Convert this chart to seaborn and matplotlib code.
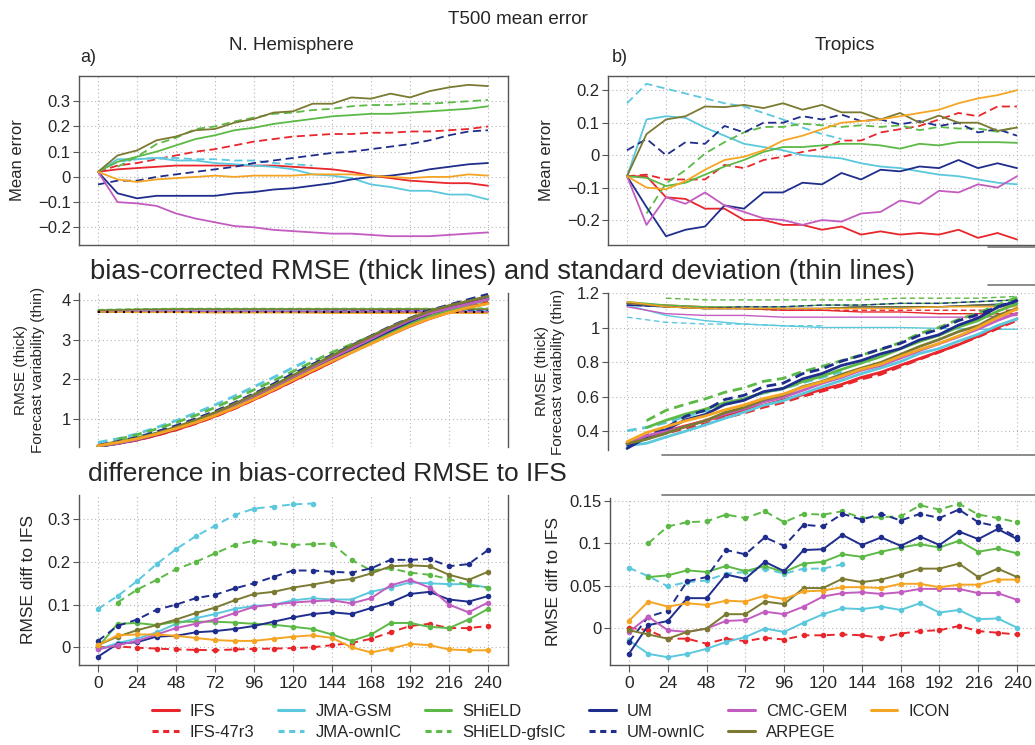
import numpy as np
import pandas as pd
import seaborn as sns
import matplotlib.pyplot as plt
from matplotlib.lines import Line2D
from matplotlib import font_manager

nan = np.nan

# lead times (h)
LEAD = [0, 12, 24, 36, 48, 60, 72, 84, 96, 108, 120, 132, 144, 156, 168, 180, 192, 204, 216, 228, 240]
LEAD24 = [0, 24, 48, 72, 96, 120, 144, 168, 192, 216, 240]
XTICKS = [0, 24, 48, 72, 96, 120, 144, 168, 192, 216, 240]

MODELS = ["IFS", "IFS-47r3", "JMA-GSM", "JMA-ownIC", "SHiELD", "SHiELD-gfsIC",
          "UM", "UM-ownIC", "CMC-GEM", "ARPEGE", "ICON"]
COLORS = {"IFS": "#e8262b", "IFS-47r3": "#e8262b",
          "JMA-GSM": "#5bc8dd", "JMA-ownIC": "#5bc8dd",
          "SHiELD": "#5cb946", "SHiELD-gfsIC": "#5cb946",
          "UM": "#1f2d8c", "UM-ownIC": "#1f2d8c",
          "CMC-GEM": "#c25cc0", "ARPEGE": "#7b7a32", "ICON": "#f5a524"}
DASHED = ["IFS-47r3", "JMA-ownIC", "SHiELD-gfsIC", "UM-ownIC"]

# mean error, N. Hemisphere
ME_NH = {
    "IFS": [0.02, 0.03, 0.035, 0.04, 0.045, 0.045, 0.045, 0.045, 0.045, 0.045, 0.04, 0.035, 0.03, 0.02, 0.005, -0.005, -0.015, -0.02, -0.025, -0.025, -0.035],
    "IFS-47r3": [0.02, 0.045, 0.055, 0.07, 0.085, 0.1, 0.11, 0.125, 0.14, 0.15, 0.16, 0.165, 0.17, 0.17, 0.175, 0.175, 0.18, 0.18, 0.185, 0.19, 0.2],
    "JMA-GSM": [0.02, 0.07, 0.07, 0.075, 0.065, 0.065, 0.055, 0.05, 0.045, 0.04, 0.03, 0.01, 0.005, -0.005, -0.03, -0.04, -0.055, -0.055, -0.07, -0.07, -0.09],
    "JMA-ownIC": [0.02, 0.06, 0.07, 0.075, 0.075, 0.07, 0.07, 0.065, 0.065, 0.055, 0.05, 0.045, nan, nan, nan, nan, nan, nan, nan, nan, nan],
    "SHiELD": [0.02, 0.06, 0.08, 0.1, 0.125, 0.15, 0.165, 0.185, 0.195, 0.21, 0.22, 0.23, 0.24, 0.245, 0.25, 0.25, 0.255, 0.26, 0.265, 0.27, 0.28],
    "SHiELD-gfsIC": [nan, 0.04, 0.08, 0.13, 0.155, 0.19, 0.2, 0.22, 0.235, 0.25, 0.255, 0.265, 0.27, 0.28, 0.285, 0.285, 0.29, 0.29, 0.295, 0.3, 0.305],
    "UM": [0.02, -0.065, -0.085, -0.075, -0.075, -0.075, -0.075, -0.065, -0.06, -0.05, -0.045, -0.035, -0.025, -0.01, 0.0, 0.005, 0.015, 0.03, 0.04, 0.05, 0.055],
    "UM-ownIC": [-0.03, -0.015, -0.015, 0.0, 0.01, 0.02, 0.03, 0.04, 0.055, 0.065, 0.075, 0.085, 0.095, 0.1, 0.11, 0.12, 0.13, 0.145, 0.165, 0.18, 0.185],
    "CMC-GEM": [0.02, -0.1, -0.105, -0.115, -0.145, -0.165, -0.18, -0.195, -0.2, -0.21, -0.215, -0.22, -0.225, -0.225, -0.23, -0.235, -0.235, -0.235, -0.23, -0.225, -0.22],
    "ARPEGE": [0.02, 0.085, 0.105, 0.145, 0.16, 0.185, 0.19, 0.215, 0.23, 0.255, 0.26, 0.29, 0.29, 0.315, 0.31, 0.33, 0.315, 0.34, 0.355, 0.365, 0.36],
    "ICON": [0.02, -0.01, -0.02, -0.01, -0.005, 0.0, 0.005, 0.0, 0.005, 0.005, 0.005, 0.01, 0.01, 0.01, 0.005, 0.0, -0.005, 0.0, 0.0, 0.01, 0.005],
}

# mean error, Tropics
ME_TR = {
    "IFS": [-0.065, -0.065, -0.13, -0.135, -0.165, -0.165, -0.2, -0.2, -0.215, -0.215, -0.23, -0.22, -0.245, -0.235, -0.245, -0.24, -0.245, -0.23, -0.255, -0.24, -0.26],
    "IFS-47r3": [-0.065, -0.06, -0.075, -0.075, -0.075, -0.03, -0.04, -0.015, -0.005, 0.01, 0.02, 0.045, 0.045, 0.07, 0.08, 0.09, 0.11, 0.13, 0.12, 0.15, 0.15],
    "JMA-GSM": [-0.065, 0.11, 0.12, 0.115, 0.085, 0.06, 0.035, 0.025, 0.015, 0.0, -0.005, -0.01, -0.025, -0.035, -0.04, -0.05, -0.06, -0.065, -0.075, -0.085, -0.09],
    "JMA-ownIC": [0.16, 0.22, 0.205, 0.19, 0.175, 0.16, 0.15, 0.13, 0.11, 0.085, 0.065, 0.05, nan, nan, nan, nan, nan, nan, nan, nan, nan],
    "SHiELD": [-0.065, -0.07, -0.095, -0.085, -0.06, -0.035, -0.015, 0.01, 0.025, 0.025, 0.03, 0.035, 0.035, 0.03, 0.02, 0.035, 0.03, 0.04, 0.04, 0.04, 0.038],
    "SHiELD-gfsIC": [nan, -0.18, -0.087, -0.046, 0.005, 0.04, 0.07, 0.087, 0.087, 0.097, 0.092, 0.087, 0.092, 0.087, 0.092, 0.077, 0.087, 0.082, 0.082, 0.072, 0.087],
    "UM": [-0.065, -0.16, -0.25, -0.23, -0.22, -0.155, -0.165, -0.115, -0.115, -0.085, -0.09, -0.055, -0.075, -0.045, -0.05, -0.035, -0.04, -0.015, -0.04, -0.025, -0.04],
    "UM-ownIC": [0.015, 0.05, 0.0, 0.04, 0.035, 0.09, 0.07, 0.1, 0.1, 0.12, 0.11, 0.125, 0.105, 0.11, 0.095, 0.105, 0.09, 0.1, 0.07, 0.08, 0.06],
    "CMC-GEM": [-0.065, -0.215, -0.13, -0.15, -0.115, -0.155, -0.175, -0.195, -0.2, -0.215, -0.2, -0.205, -0.18, -0.175, -0.14, -0.15, -0.11, -0.115, -0.09, -0.1, -0.065],
    "ARPEGE": [-0.065, 0.065, 0.11, 0.12, 0.15, 0.148, 0.155, 0.145, 0.16, 0.14, 0.155, 0.132, 0.132, 0.11, 0.13, 0.1, 0.122, 0.1, 0.1, 0.075, 0.085],
    "ICON": [-0.065, -0.1, -0.105, -0.08, -0.045, -0.015, -0.005, 0.015, 0.045, 0.06, 0.08, 0.1, 0.105, 0.11, 0.12, 0.13, 0.14, 0.16, 0.175, 0.185, 0.2],
}

# bias-corrected RMSE of IFS
RMSE_IFS_NH = [0.32, 0.38, 0.47, 0.59, 0.73, 0.89, 1.07, 1.27, 1.49, 1.72, 1.96, 2.2, 2.44, 2.68, 2.91, 3.13, 3.34, 3.53, 3.69, 3.82, 3.92]
RMSE_IFS_TR = [0.33, 0.36, 0.4, 0.43, 0.46, 0.49, 0.52, 0.55, 0.58, 0.61, 0.64, 0.67, 0.71, 0.74, 0.78, 0.82, 0.86, 0.9, 0.95, 1.0, 1.05]

# difference in bias-corrected RMSE to IFS, N. Hemisphere
DIFF_NH = {
    "IFS-47r3": [0.0, 0.002, -0.001, -0.003, -0.005, -0.006, -0.007, -0.005, -0.004, -0.003, -0.002, 0.0, 0.005, 0.01, 0.02, 0.035, 0.05, 0.055, 0.045, 0.045, 0.05],
    "JMA-GSM": [-0.005, 0.01, 0.02, 0.035, 0.055, 0.068, 0.078, 0.09, 0.097, 0.1, 0.11, 0.115, 0.112, 0.112, 0.13, 0.14, 0.152, 0.15, 0.148, 0.148, 0.14],
    "JMA-ownIC": [0.09, 0.12, 0.155, 0.195, 0.23, 0.26, 0.285, 0.31, 0.325, 0.33, 0.335, 0.337, nan, nan, nan, nan, nan, nan, nan, nan, nan],
    "SHiELD": [0.0, 0.055, 0.057, 0.052, 0.06, 0.06, 0.06, 0.058, 0.055, 0.053, 0.048, 0.043, 0.03, 0.015, 0.03, 0.057, 0.057, 0.048, 0.045, 0.065, 0.09],
    "SHiELD-gfsIC": [nan, 0.105, 0.135, 0.158, 0.183, 0.2, 0.22, 0.24, 0.25, 0.245, 0.24, 0.242, 0.243, 0.205, 0.18, 0.185, 0.175, 0.17, 0.16, 0.145, 0.14],
    "UM": [-0.022, 0.008, 0.012, 0.025, 0.027, 0.035, 0.038, 0.043, 0.05, 0.06, 0.07, 0.078, 0.082, 0.078, 0.092, 0.105, 0.125, 0.13, 0.112, 0.107, 0.12],
    "UM-ownIC": [0.015, 0.05, 0.065, 0.088, 0.1, 0.115, 0.123, 0.138, 0.15, 0.165, 0.18, 0.18, 0.177, 0.175, 0.185, 0.205, 0.205, 0.207, 0.19, 0.195, 0.228],
    "CMC-GEM": [-0.005, 0.005, 0.015, 0.03, 0.045, 0.055, 0.065, 0.08, 0.095, 0.1, 0.105, 0.108, 0.11, 0.103, 0.115, 0.145, 0.158, 0.14, 0.1, 0.082, 0.105],
    "ARPEGE": [0.005, 0.025, 0.04, 0.052, 0.065, 0.08, 0.093, 0.11, 0.125, 0.13, 0.14, 0.147, 0.155, 0.16, 0.173, 0.19, 0.192, 0.19, 0.17, 0.158, 0.177],
    "ICON": [0.005, 0.028, 0.03, 0.03, 0.027, 0.022, 0.017, 0.015, 0.015, 0.02, 0.025, 0.028, 0.022, 0.0, -0.012, -0.003, 0.008, 0.005, -0.005, -0.007, -0.007],
}

# difference in bias-corrected RMSE to IFS, Tropics
DIFF_TR = {
    "IFS-47r3": [0.0, -0.003, -0.013, -0.013, -0.019, -0.013, -0.016, -0.012, -0.014, -0.009, -0.009, -0.008, -0.009, -0.012, -0.007, -0.004, -0.003, 0.002, -0.004, -0.006, -0.008],
    "JMA-GSM": [-0.015, -0.031, -0.035, -0.031, -0.025, -0.017, -0.011, -0.001, -0.005, 0.006, 0.016, 0.023, 0.022, 0.025, 0.021, 0.029, 0.018, 0.021, 0.01, 0.011, 0.0],
    "JMA-ownIC": [0.071, 0.061, 0.049, 0.054, 0.056, 0.064, 0.066, 0.07, 0.064, 0.07, 0.07, 0.075, nan, nan, nan, nan, nan, nan, nan, nan, nan],
    "SHiELD": [nan, 0.06, 0.062, 0.068, 0.066, 0.073, 0.067, 0.073, 0.066, 0.076, 0.078, 0.087, 0.084, 0.09, 0.095, 0.099, 0.095, 0.103, 0.09, 0.094, 0.088],
    "SHiELD-gfsIC": [nan, 0.1, 0.12, 0.125, 0.126, 0.134, 0.13, 0.138, 0.125, 0.135, 0.134, 0.138, 0.13, 0.131, 0.132, 0.145, 0.14, 0.147, 0.134, 0.13, 0.125],
    "UM": [-0.031, 0.003, 0.008, 0.035, 0.035, 0.063, 0.058, 0.078, 0.067, 0.092, 0.093, 0.11, 0.098, 0.107, 0.097, 0.108, 0.098, 0.114, 0.105, 0.117, 0.105],
    "UM-ownIC": [-0.017, 0.013, 0.02, 0.055, 0.06, 0.092, 0.087, 0.107, 0.097, 0.122, 0.12, 0.135, 0.128, 0.135, 0.127, 0.135, 0.13, 0.14, 0.125, 0.12, 0.107],
    "CMC-GEM": [-0.005, 0.013, -0.003, -0.005, -0.001, 0.008, 0.009, 0.019, 0.016, 0.025, 0.037, 0.041, 0.042, 0.04, 0.042, 0.046, 0.046, 0.046, 0.041, 0.041, 0.033],
    "ARPEGE": [-0.003, -0.008, -0.013, -0.005, -0.001, 0.016, 0.016, 0.031, 0.028, 0.047, 0.047, 0.058, 0.054, 0.057, 0.063, 0.07, 0.07, 0.076, 0.06, 0.07, 0.06],
    "ICON": [0.008, 0.031, 0.025, 0.029, 0.027, 0.032, 0.031, 0.038, 0.034, 0.043, 0.044, 0.048, 0.048, 0.047, 0.052, 0.052, 0.048, 0.051, 0.051, 0.057, 0.057],
}

# forecast variability (standard deviation), every 24 h
STD_NH = {
    "IFS": [3.72, 3.72, 3.72, 3.72, 3.72, 3.71, 3.71, 3.71, 3.7, 3.7, 3.7],
    "IFS-47r3": [3.72, 3.72, 3.72, 3.72, 3.72, 3.72, 3.72, 3.72, 3.72, 3.72, 3.72],
    "JMA-GSM": [3.7, 3.71, 3.72, 3.72, 3.72, 3.73, 3.73, 3.73, 3.74, 3.74, 3.74],
    "JMA-ownIC": [3.72, 3.73, 3.74, 3.74, 3.74, 3.74, nan, nan, nan, nan, nan],
    "SHiELD": [3.75, 3.77, 3.78, 3.78, 3.78, 3.78, 3.78, 3.78, 3.78, 3.78, 3.78],
    "SHiELD-gfsIC": [3.76, 3.78, 3.79, 3.79, 3.79, 3.79, 3.79, 3.79, 3.79, 3.79, 3.8],
    "UM": [3.7, 3.7, 3.7, 3.7, 3.7, 3.7, 3.7, 3.7, 3.71, 3.71, 3.71],
    "UM-ownIC": [3.7, 3.7, 3.7, 3.7, 3.71, 3.71, 3.72, 3.73, 3.74, 3.75, 3.75],
    "CMC-GEM": [3.71, 3.72, 3.72, 3.72, 3.72, 3.72, 3.72, 3.72, 3.72, 3.71, 3.71],
    "ARPEGE": [3.74, 3.76, 3.77, 3.77, 3.77, 3.77, 3.77, 3.77, 3.77, 3.77, 3.77],
    "ICON": [3.7, 3.69, 3.69, 3.68, 3.68, 3.68, 3.67, 3.67, 3.67, 3.67, 3.67],
}
ANA_STD_NH = [3.71, 3.71, 3.71, 3.71, 3.71, 3.71, 3.71, 3.71, 3.71, 3.71, 3.71]
STD_TR = {
    "IFS": [1.14, 1.13, 1.12, 1.11, 1.1, 1.1, 1.09, 1.09, 1.08, 1.08, 1.08],
    "IFS-47r3": [1.14, 1.12, 1.11, 1.11, 1.1, 1.1, 1.1, 1.1, 1.1, 1.1, 1.1],
    "JMA-GSM": [1.13, 1.07, 1.04, 1.02, 1.01, 1.0, 1.0, 1.0, 0.995, 0.99, 0.99],
    "JMA-ownIC": [1.06, 1.03, 1.02, 1.02, 1.01, 1.01, nan, nan, nan, nan, nan],
    "SHiELD": [1.15, 1.13, 1.12, 1.12, 1.12, 1.13, 1.13, 1.14, 1.14, 1.15, 1.16],
    "SHiELD-gfsIC": [nan, 1.17, 1.16, 1.16, 1.16, 1.16, 1.16, 1.17, 1.17, 1.17, 1.18],
    "UM": [1.13, 1.12, 1.11, 1.11, 1.11, 1.11, 1.12, 1.12, 1.12, 1.13, 1.14],
    "UM-ownIC": [1.13, 1.12, 1.11, 1.12, 1.12, 1.13, 1.13, 1.14, 1.14, 1.15, 1.16],
    "CMC-GEM": [1.12, 1.08, 1.07, 1.07, 1.06, 1.06, 1.06, 1.06, 1.06, 1.06, 1.07],
    "ARPEGE": [1.14, 1.12, 1.11, 1.11, 1.11, 1.11, 1.12, 1.12, 1.12, 1.13, 1.13],
    "ICON": [1.15, 1.12, 1.11, 1.11, 1.11, 1.11, 1.11, 1.11, 1.12, 1.12, 1.12],
}

YT_ME_NH = [-0.2, -0.1, 0, 0.1, 0.2, 0.3]
YL_ME_NH = ["\u22120.2", "\u22120.1", "0", "0.1", "0.2", "0.3"]
YT_ME_TR = [-0.2, -0.1, 0, 0.1, 0.2]
YL_ME_TR = ["\u22120.2", "\u22120.1", "0", "0.1", "0.2"]
YT_RM_NH = [1, 2, 3, 4]
YL_RM_NH = ["1", "2", "3", "4"]
YT_RM_TR = [0.4, 0.6, 0.8, 1.0, 1.2]
YL_RM_TR = ["0.4", "0.6", "0.8", "1", "1.2"]
YT_DF_NH = [0, 0.1, 0.2, 0.3]
YL_DF_NH = ["0", "0.1", "0.2", "0.3"]
YT_DF_TR = [0, 0.05, 0.1, 0.15]
YL_DF_TR = ["0", "0.05", "0.1", "0.15"]


def to_long(d, x):
    rows = []
    for m, vals in d.items():
        for xi, v in zip(x, vals):
            rows.append((m, xi, v))
    return pd.DataFrame(rows, columns=["model", "lead", "value"]).dropna()


def rmse_from_diff(base, diff):
    out = {"IFS": base}
    for m, vals in diff.items():
        out[m] = [b + v for b, v in zip(base, vals)]
    return out


sns.set_style("white")
names = {f.name for f in font_manager.fontManager.ttflist}
NARROW = "Liberation Sans Narrow" if "Liberation Sans Narrow" in names else "Liberation Sans"
plt.rcParams["font.family"] = [NARROW, "DejaVu Sans"]
plt.rcParams["axes.unicode_minus"] = True

W, H = 1035, 745
fig = plt.figure(figsize=(W / 100, H / 100), dpi=100)


def px_axes(left, top, right, bottom):
    return fig.add_axes([left / W, 1 - bottom / H, (right - left) / W, (bottom - top) / H])


def px_line(x0, x1, y0, y1, lw=1.2):
    fig.add_artist(Line2D([x0 / W, x1 / W], [1 - y0 / H, 1 - y1 / H], color="#777777",
                          linewidth=lw, transform=fig.transFigure))


def draw(ax, d, x, lw, dash, markers=False):
    df = to_long(d, x)
    levels = [m for m in MODELS if m in d]
    dashes = {m: (dash if m in DASHED else "") for m in levels}
    kw = {}
    if markers:
        kw = dict(markers={m: "o" for m in levels}, markersize=4, markeredgewidth=0)
    sns.lineplot(data=df, x="lead", y="value", hue="model", style="model",
                 hue_order=levels, style_order=levels, palette=COLORS,
                 dashes=dashes, linewidth=lw, legend=False, ax=ax,
                 estimator=None, errorbar=None, **kw)


def style_ax(ax, ylim, yt, yl, xlabels=False, hide=()):
    ax.set_xlim(-11.7, 252.3)
    ax.set_ylim(*ylim)
    ax.set_xticks(XTICKS)
    ax.set_yticks(yt)
    ax.set_yticklabels(yl, fontsize=12)
    ax.set_xlabel("")
    ax.set_ylabel("")
    ax.grid(True, color="#b5b5b5", linestyle=(0, (1, 2.5)), linewidth=0.8)
    for s in ax.spines.values():
        s.set_color("#555555")
        s.set_linewidth(1.0)
    for s in hide:
        ax.spines[s].set_visible(False)
    ax.tick_params(axis="y", which="both", left=True, length=4, width=0.8, color="#555555", pad=2)
    if xlabels:
        ax.set_xticklabels([str(t) for t in XTICKS], fontsize=12.5)
        ax.tick_params(axis="x", bottom=True, length=5, width=0.8, color="#555555", pad=3)
    else:
        ax.tick_params(axis="x", bottom=False, labelbottom=False)


# --- top row: mean error
ax1 = px_axes(79, 76, 508, 245)
draw(ax1, ME_NH, LEAD, 1.3, (4.5, 2.5))
style_ax(ax1, (-0.27, 0.40), YT_ME_NH, YL_ME_NH)
ax1.set_ylabel("Mean error", fontsize=12, labelpad=9)

ax2 = px_axes(608, 76, 1037, 245)
draw(ax2, ME_TR, LEAD, 1.3, (4.5, 2.5))
style_ax(ax2, (-0.277, 0.244), YT_ME_TR, YL_ME_TR)
ax2.set_ylabel("Mean error", fontsize=12, labelpad=9)

# --- middle row: RMSE (thick) and forecast variability (thin)
ax3 = px_axes(79, 293, 508, 447)
draw(ax3, STD_NH, LEAD24, 1.0, (4, 2.5))
ax3.plot(LEAD24, ANA_STD_NH, color="black", linestyle=(0, (1, 3)), linewidth=1.5)
draw(ax3, rmse_from_diff(RMSE_IFS_NH, DIFF_NH), LEAD, 2.0, (3.5, 2))
style_ax(ax3, (0.294, 4.18), YT_RM_NH, YL_RM_NH, hide=("top", "bottom"))
ax3.set_ylabel("RMSE (thick)\nForecast variability (thin)", fontsize=11, labelpad=12, linespacing=1.2)

ax4 = px_axes(608, 293, 1037, 450)
draw(ax4, STD_TR, LEAD24, 1.0, (4, 2.5))
draw(ax4, rmse_from_diff(RMSE_IFS_TR, DIFF_TR), LEAD, 2.0, (3.5, 2))
style_ax(ax4, (0.29, 1.194), YT_RM_TR, YL_RM_TR, hide=("top", "bottom"))
ax4.set_ylabel("RMSE (thick)\nForecast variability (thin)", fontsize=11, labelpad=8, linespacing=1.2)

# --- bottom row: RMSE difference to IFS
ax5 = px_axes(79, 495, 508, 665)
draw(ax5, DIFF_NH, LEAD, 1.4, (4, 2.5), markers=True)
style_ax(ax5, (-0.0415, 0.357), YT_DF_NH, YL_DF_NH, xlabels=True, hide=("top",))
ax5.set_ylabel("RMSE diff to IFS", fontsize=12.5, labelpad=8)

ax6 = px_axes(610, 498, 1037, 665)
draw(ax6, DIFF_TR, LEAD, 1.4, (4, 2.5), markers=True)
style_ax(ax6, (-0.0442, 0.1537), YT_DF_TR, YL_DF_TR, xlabels=True, hide=("top",))
ax6.set_ylabel("RMSE diff to IFS", fontsize=12.5, labelpad=6)

# stray frame pieces at the right-hand edge
px_line(988, 1035, 247, 247)
px_line(988, 1035, 285, 285)
px_line(662, 1035, 455, 455)
px_line(662, 1035, 495, 495)

# --- titles
fig.text(518 / W, 1 - 19 / H, "T500 mean error", ha="center", va="center", fontsize=13.5)
fig.text(291 / W, 1 - 46 / H, "N. Hemisphere", ha="center", va="center", fontsize=13.5)
fig.text(845 / W, 1 - 46 / H, "Tropics", ha="center", va="center", fontsize=13.5)
fig.text(80 / W, 1 - 57 / H, "a)", ha="left", va="center", fontsize=13)
fig.text(612 / W, 1 - 57 / H, "b)", ha="left", va="center", fontsize=13)
fig.text(503 / W, 1 - 272 / H, "bias-corrected RMSE (thick lines) and standard deviation (thin lines)",
         ha="center", va="center", fontsize=19.7)
fig.text(88 / W, 1 - 474 / H, "difference in bias-corrected RMSE to IFS",
         ha="left", va="center", fontsize=19)

# --- legend
handles, labels = [], []
for m in MODELS:
    ls = (0, (2, 1.5)) if m in DASHED else "-"
    handles.append(Line2D([], [], color=COLORS[m], linewidth=2.2, linestyle=ls))
    labels.append(m)
fig.legend(handles, labels, ncol=6, loc="center", bbox_to_anchor=(551 / W, 1 - 722 / H),
           frameon=False, fontsize=12, handlelength=1.6, columnspacing=1.4,
           handletextpad=0.65, labelspacing=0.35)

fig.savefig("out.png", dpi=100, facecolor="white")
